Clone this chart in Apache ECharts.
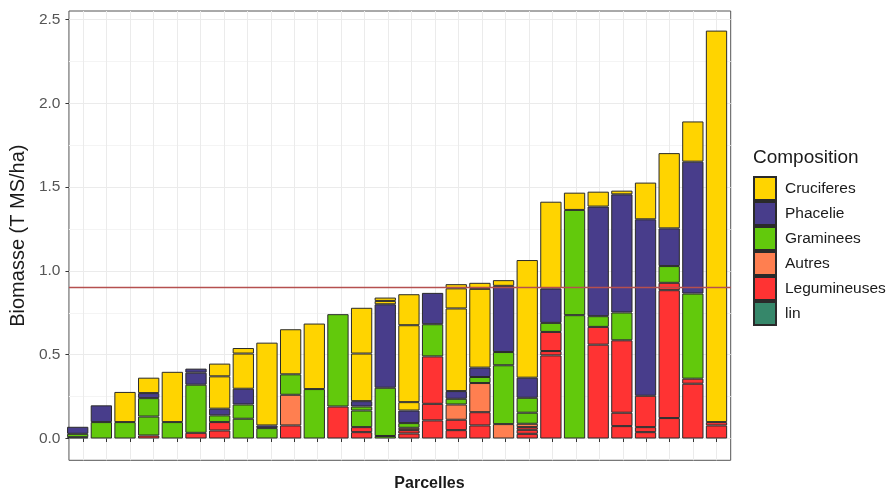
<!DOCTYPE html>
<html>
<head>
<meta charset="utf-8">
<script src="https://cdn.jsdelivr.net/npm/echarts@6/dist/echarts.min.js"></script>
<style>
html,body{margin:0;padding:0;background:#ffffff;}
#chart{width:893px;height:492px;}
</style>
</head>
<body>
<div id="chart"></div>
<script>
// ---------------- DATA ----------------
const categories = ['P01','P02','P03','P04','P05','P06','P07','P08','P09','P10','P11','P12','P13','P14',
                    'P15','P16','P17','P18','P19','P20','P21','P22','P23','P24','P25','P26','P27','P28'];
const yTicks = [0, 0.5, 1.0, 1.5, 2.0, 2.5];
const yMinorTicks = [0.25, 0.75, 1.25, 1.75, 2.25];
const threshold = 0.895;

// stacked sub-segments (bottom to top); null = no segment
const lin          = [0.008,null,null,null,null,null,null,null,null,null,null,null,null,null,null,null,null,null,null,null,null,null,null,null,null,null,null,null];
const legumineuses1= [null,null,null,0.018,null,0.034,0.048,null,null,0.078,null,0.191,0.038,null,0.03,0.108,0.05,0.078,null,0.028,0.496,null,0.56,0.074,0.038,0.122,0.327,0.078];
const legumineuses2= [null,null,null,null,null,null,0.05,null,null,null,null,null,0.03,null,0.02,0.099,0.062,0.079,null,0.024,0.026,null,0.106,0.08,0.03,0.763,0.03,0.02];
const legumineuses3= [null,null,null,null,null,null,null,null,null,null,null,null,null,null,null,0.283,null,null,null,0.016,0.114,null,null,0.432,0.187,0.044,null,null];
const autres1      = [null,null,null,null,null,null,null,null,null,0.183,null,null,null,null,0.014,null,0.091,0.174,0.086,0.02,null,null,null,null,null,null,null,null];
const graminees1   = [0.02,0.098,0.098,0.113,0.098,0.287,0.04,0.118,0.062,0.122,0.295,0.551,0.099,0.015,0.028,0.192,0.034,0.036,0.351,0.066,0.054,0.736,0.064,0.166,null,0.1,0.508,null];
const graminees2   = [null,null,null,0.11,null,null,null,0.085,null,null,null,null,0.024,0.288,null,null,null,null,0.079,0.089,null,0.628,null,null,null,null,null,null];
const phacelie1    = [0.042,0.10,null,0.03,null,0.072,0.04,0.094,0.016,null,null,null,0.032,0.498,0.075,0.187,0.046,0.056,0.395,0.12,0.205,null,0.654,0.705,1.053,0.225,0.787,null];
const phacelie2    = [null,null,null,null,null,0.024,null,null,null,null,null,null,null,null,null,null,null,null,null,null,null,null,null,null,null,null,null,null];
const cruciferes1  = [null,null,0.18,0.092,0.30,null,0.193,0.21,0.494,0.269,0.391,null,0.284,0.02,0.05,null,0.493,0.47,0.034,0.702,0.518,0.103,0.089,0.022,0.219,0.449,0.24,2.336];
const cruciferes2  = [null,null,null,null,null,null,0.076,0.033,null,null,null,null,0.273,0.02,0.459,null,0.12,0.036,null,null,null,null,null,null,null,null,null,null];
const cruciferes3  = [null,null,null,null,null,null,null,null,null,null,null,null,null,null,0.185,null,0.025,null,null,null,null,null,null,null,null,null,null,null];

const legendNames = ['Cruciferes','Phacelie','Graminees','Autres','Legumineuses','lin'];
const colors = {
  Cruciferes: '#FFD400',
  Phacelie: '#483D8B',
  Graminees: '#62C90C',
  Autres: '#FF7F50',
  Legumineuses: '#FF3333',
  lin: '#36876A'
};

// ---------------- LAYOUT ----------------
const FONT = "'Liberation Sans', Arial, sans-serif";
const panel = {left: 63.5, top: 11, width: 667.2, height: 449.3};
const yMin = -0.13, yMax = 2.551;
const nCat = categories.length;
const unit = panel.width / (nCat + 0.2);          // ggplot discrete expansion 0.6 each side
const inset = 0.1 * unit;
const xCenters = categories.map((c, i) => i + 1);

function barSeries(name, values) {
  return {
    type: 'bar',
    name: name,
    stack: 'total',
    xAxisIndex: 1,
    yAxisIndex: 2,
    barWidth: '90%',
    data: values.map(v => (v == null ? '-' : v)),
    itemStyle: {color: colors[name], borderColor: '#2a2a2a', borderWidth: 1},
    emphasis: {disabled: true},
    animation: false
  };
}

const series = [
  barSeries('lin', lin),
  barSeries('Legumineuses', legumineuses1),
  barSeries('Legumineuses', legumineuses2),
  barSeries('Legumineuses', legumineuses3),
  barSeries('Autres', autres1),
  barSeries('Graminees', graminees1),
  barSeries('Graminees', graminees2),
  barSeries('Phacelie', phacelie1),
  barSeries('Phacelie', phacelie2),
  barSeries('Cruciferes', cruciferes1),
  barSeries('Cruciferes', cruciferes2),
  barSeries('Cruciferes', cruciferes3),
  {
    type: 'line',
    name: 'seuil',
    xAxisIndex: 0,
    yAxisIndex: 0,
    data: [],
    silent: true,
    animation: false,
    markLine: {
      silent: true,
      symbol: ['none', 'none'],
      label: {show: false},
      animation: false,
      lineStyle: {color: '#b5504f', width: 1.4, type: 'solid'},
      data: [{yAxis: threshold}]
    }
  }
];

const option = {
  backgroundColor: '#ffffff',
  animation: false,
  textStyle: {fontFamily: FONT},
  grid: [
    {left: panel.left, top: panel.top, width: panel.width, height: panel.height,
     show: true, borderColor: '#555555', borderWidth: 1, backgroundColor: '#ffffff', containLabel: false},
    {left: panel.left + inset, top: panel.top, width: panel.width - 2 * inset, height: panel.height,
     show: false, containLabel: false}
  ],
  xAxis: [
    {
      type: 'value', gridIndex: 0, min: 0.4, max: nCat + 0.6,
      axisLine: {show: false},
      axisTick: {show: true, customValues: xCenters, length: 3.5, lineStyle: {color: '#333333', width: 1}},
      axisLabel: {show: false},
      splitLine: {show: true, lineStyle: {color: '#ebebeb', width: 1}}
    },
    {
      type: 'category', gridIndex: 1, data: categories, boundaryGap: true,
      show: false
    }
  ],
  yAxis: [
    {
      type: 'value', gridIndex: 0, min: yMin, max: yMax,
      name: 'Biomasse (T MS/ha)', nameLocation: 'middle', nameGap: 30,
      nameTextStyle: {fontSize: 20, color: '#1a1a1a', fontFamily: FONT},
      axisLine: {show: false},
      axisTick: {show: true, customValues: yTicks, length: 3.5, lineStyle: {color: '#333333', width: 1}},
      axisLabel: {show: true, customValues: yTicks, margin: 8.5, fontSize: 15.5, color: '#555555',
                  fontFamily: FONT, formatter: v => Number(v).toFixed(1)},
      splitLine: {show: true, lineStyle: {color: '#ebebeb', width: 1}}
    },
    {
      type: 'value', gridIndex: 0, min: yMin, max: yMax, position: 'left',
      axisLine: {show: false},
      axisTick: {show: false, customValues: yMinorTicks},
      axisLabel: {show: false, customValues: yMinorTicks},
      splitLine: {show: true, lineStyle: {color: '#f4f4f4', width: 1}}
    },
    {
      type: 'value', gridIndex: 1, min: yMin, max: yMax, show: false,
      splitLine: {show: false}
    }
  ],
  legend: {
    data: legendNames,
    orient: 'vertical',
    left: 753, top: 176,
    padding: 0,
    itemWidth: 22, itemHeight: 23, itemGap: 0,
    icon: 'rect',
    selectedMode: false,
    textStyle: {fontSize: 15.5, color: '#1a1a1a', fontFamily: FONT, padding: [0, 0, 0, 4]}
  },
  graphic: [
    {type: 'text', x: 753, y: 158, silent: true,
     style: {text: 'Composition', font: '19px ' + FONT, fill: '#1a1a1a', textAlign: 'left', textVerticalAlign: 'middle'}},
    {type: 'text', x: 429.5, y: 484, silent: true,
     style: {text: 'Parcelles', font: 'bold 16px ' + FONT, fill: '#1a1a1a', textAlign: 'center', textVerticalAlign: 'middle'}}
  ],
  series: series
};

const chart = echarts.init(document.getElementById('chart'), null, {renderer: 'canvas'});
chart.setOption(option);
</script>
</body>
</html>
